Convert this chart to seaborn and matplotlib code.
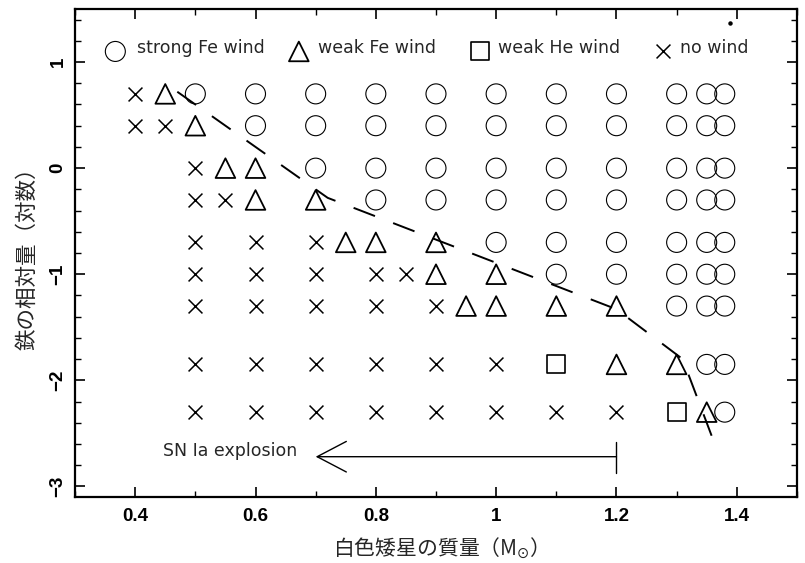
import matplotlib
matplotlib.use("Agg")
import matplotlib.pyplot as plt
from matplotlib.ticker import MultipleLocator, FuncFormatter
import seaborn as sns
import pandas as pd

# --- wind regime grid: white-dwarf mass (Msun) vs log relative iron abundance ---
strong_fe_mass = [0.5, 0.6, 0.7, 0.8, 0.9, 1.0, 1.1, 1.2, 1.3, 1.35, 1.38,
                  0.6, 0.7, 0.8, 0.9, 1.0, 1.1, 1.2, 1.3, 1.35, 1.38,
                  0.7, 0.8, 0.9, 1.0, 1.1, 1.2, 1.3, 1.35, 1.38,
                  0.8, 0.9, 1.0, 1.1, 1.2, 1.3, 1.35, 1.38,
                  1.0, 1.1, 1.2, 1.3, 1.35, 1.38,
                  1.1, 1.2, 1.3, 1.35, 1.38,
                  1.3, 1.35, 1.38,
                  1.35, 1.38,
                  1.38]
strong_fe_logfe = [0.7] * 11 + [0.4] * 10 + [0.0] * 9 + [-0.3] * 8 + [-0.7] * 6 \
    + [-1.0] * 5 + [-1.3] * 3 + [-1.85] * 2 + [-2.3]

weak_fe_mass = [0.45, 0.5, 0.55, 0.6, 0.6, 0.7, 0.75, 0.8, 0.9,
                0.9, 1.0, 0.95, 1.0, 1.1, 1.2, 1.2, 1.3, 1.35]
weak_fe_logfe = [0.7, 0.4, 0.0, 0.0, -0.3, -0.3, -0.7, -0.7, -0.7,
                 -1.0, -1.0, -1.3, -1.3, -1.3, -1.3, -1.85, -1.85, -2.3]

weak_he_mass = [1.1, 1.3]
weak_he_logfe = [-1.85, -2.3]

no_wind_mass = [0.4, 0.4, 0.45, 0.5, 0.5, 0.55,
                0.5, 0.6, 0.7,
                0.5, 0.6, 0.7, 0.8, 0.85,
                0.5, 0.6, 0.7, 0.8, 0.9,
                0.5, 0.6, 0.7, 0.8, 0.9, 1.0,
                0.5, 0.6, 0.7, 0.8, 0.9, 1.0, 1.1, 1.2]
no_wind_logfe = [0.7, 0.4, 0.4, 0.0, -0.3, -0.3,
                 -0.7, -0.7, -0.7,
                 -1.0, -1.0, -1.0, -1.0, -1.0,
                 -1.3, -1.3, -1.3, -1.3, -1.3,
                 -1.85, -1.85, -1.85, -1.85, -1.85, -1.85,
                 -2.3, -2.3, -2.3, -2.3, -2.3, -2.3, -2.3, -2.3]

# dashed boundary of the strong-wind region
boundary_mass = [0.47, 0.72, 1.20, 1.31, 1.36]
boundary_logfe = [0.72, -0.28, -1.33, -1.80, -2.55]

legend_labels = ["strong Fe wind", "weak Fe wind", "weak He wind", "no wind"]
x_ticks = [0.4, 0.6, 0.8, 1.0, 1.2, 1.4]
y_ticks = [1, 0, -1, -2, -3]

# SN Ia explosion arrow (from 1.2 Msun towards lower masses)
sn_arrow_start = 1.2
sn_arrow_end = 0.7
sn_arrow_level = -2.72

sns.set_theme(style="ticks")
plt.rcParams["font.family"] = ["Liberation Sans", "DejaVu Sans"]
plt.rcParams["mathtext.fontset"] = "dejavusans"

fig = plt.figure(figsize=(8.05, 5.63), dpi=100)
ax = fig.add_axes([0.0932, 0.1172, 0.8968, 0.8668])

regimes = [
    ("strong Fe wind", strong_fe_mass, strong_fe_logfe, "o", 207, 0.8),
    ("weak Fe wind", weak_fe_mass, weak_fe_logfe, "^", 200, 1.3),
    ("weak He wind", weak_he_mass, weak_he_logfe, "s", 169, 1.2),
]
for name, xs, ys, mk, size, lw in regimes:
    df = pd.DataFrame({"mass": xs, "logfe": ys})
    sns.scatterplot(data=df, x="mass", y="logfe", marker=mk, s=size,
                    facecolor="none", edgecolor="black", linewidth=lw,
                    ax=ax, legend=False, zorder=3)

df_nw = pd.DataFrame({"mass": no_wind_mass, "logfe": no_wind_logfe})
sns.scatterplot(data=df_nw, x="mass", y="logfe", marker="x", s=100,
                color="black", linewidth=1.1, ax=ax, legend=False, zorder=3)

# regime boundary
bline, = ax.plot(boundary_mass, boundary_logfe, color="black", lw=1.4, zorder=4)
bline.set_dashes((16.5 / 1.4, 14.0 / 1.4))

# legend row drawn along the top of the panel
legend_marker_x = [0.367, 0.672, 0.973, 1.278]
legend_text_x = [0.403, 0.704, 1.003, 1.306]
legend_y = 1.13
legend_styles = [("o", 207, 0.8, "none"), ("^", 200, 1.3, "none"),
                 ("s", 169, 1.2, "none"), ("x", 100, 1.1, "black")]
for mx, tx, lab, (mk, size, lw, fc) in zip(legend_marker_x, legend_text_x,
                                           legend_labels, legend_styles):
    if mk == "x":
        ax.scatter([mx], [legend_y - 0.03], marker=mk, s=size, color="black",
                   linewidths=lw, zorder=3)
    else:
        ax.scatter([mx], [legend_y - 0.03], marker=mk, s=size, facecolor=fc,
                   edgecolor="black", linewidths=lw, zorder=3)
    ax.text(tx, legend_y, lab, fontsize=12.5, family="DejaVu Sans",
            ha="left", va="center")

ax.plot([1.388], [1.37], marker="o", ms=2.2, color="black")

# SN Ia explosion arrow
ax.annotate("", xy=(sn_arrow_end, sn_arrow_level),
            xytext=(sn_arrow_start, sn_arrow_level),
            arrowprops=dict(arrowstyle="->,head_length=2.1,head_width=1.1",
                            lw=1.0, color="black", mutation_scale=10,
                            shrinkA=0, shrinkB=0))
ax.plot([sn_arrow_start, sn_arrow_start],
        [sn_arrow_level + 0.14, sn_arrow_level - 0.15], color="black", lw=1.0)
ax.text(0.446, sn_arrow_level + 0.05, "SN Ia explosion", fontsize=12.5,
        family="DejaVu Sans", ha="left", va="center")

ax.set_xlim(0.3, 1.5)
ax.set_ylim(-3.1, 1.5)

ax.xaxis.set_major_locator(MultipleLocator(0.2))
ax.xaxis.set_minor_locator(MultipleLocator(0.1))
ax.yaxis.set_major_locator(MultipleLocator(1))
ax.yaxis.set_minor_locator(MultipleLocator(0.2))
ax.set_xticks(x_ticks)
ax.set_yticks(y_ticks)


def xfmt(v, pos):
    return "1" if abs(v - 1) < 1e-9 else f"{v:.1f}"


def yfmt(v, pos):
    return f"{int(round(v))}".replace("-", "\u2212")


ax.xaxis.set_major_formatter(FuncFormatter(xfmt))
ax.yaxis.set_major_formatter(FuncFormatter(yfmt))

ax.tick_params(which="both", direction="in", top=True, right=True,
               color="black", labelcolor="black")
ax.tick_params(which="major", length=7.5, width=1.2, labelsize=13.5)
ax.tick_params(axis="x", which="major", pad=8)
ax.tick_params(axis="y", which="major", pad=6)
ax.tick_params(which="minor", length=4.5, width=1.0)
for lab in ax.get_xticklabels():
    lab.set_fontweight("bold")
for lab in ax.get_yticklabels():
    lab.set_fontweight("bold")
    lab.set_rotation(90)
    lab.set_va("center")

for sp in ax.spines.values():
    sp.set_linewidth(1.6)
    sp.set_color("black")

cjk = ["Noto Sans CJK JP", "DejaVu Sans"]
ax.set_xlabel("白色矮星の質量（M$_{\\odot}$）", family=cjk, fontsize=15, labelpad=8)
ax.set_ylabel("鉄の相対量（対数）", family=cjk, fontsize=15.5, labelpad=8)

fig.savefig("out.png", dpi=100, facecolor="white")
